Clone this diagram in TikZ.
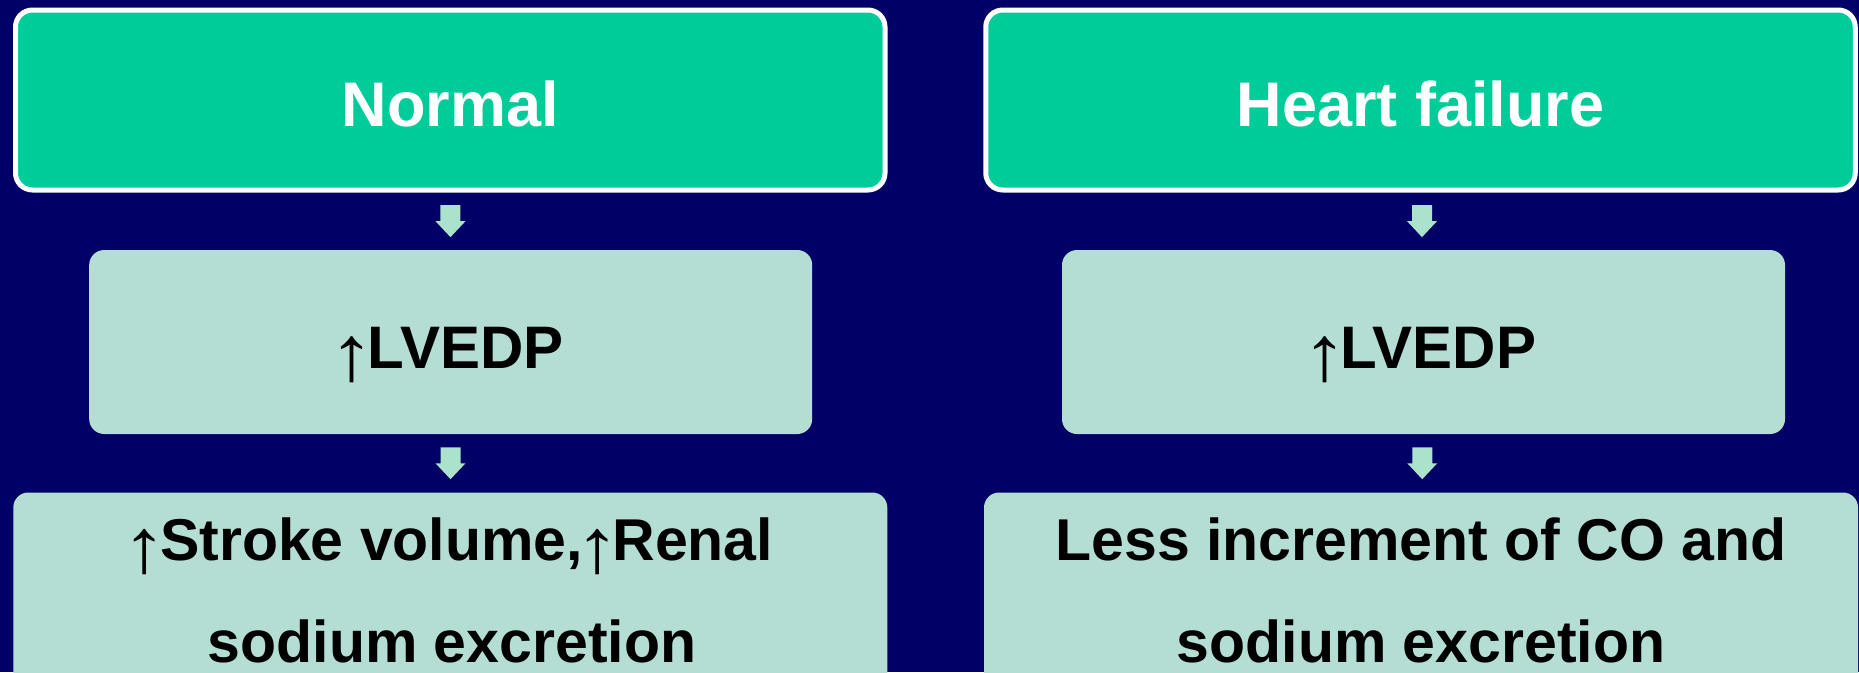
\documentclass[tikz,border=0pt]{standalone}
\usepackage{fontspec}
\usepackage{graphicx}
\setmainfont{Liberation Sans}
\usetikzlibrary{calc}
\definecolor{bg}{RGB}{0,0,102}
\definecolor{hdr}{RGB}{0,204,153}
\definecolor{midfill}{RGB}{180,221,212}
\definecolor{arrfill}{RGB}{170,226,204}
\newcommand{\uparr}{\hspace{-8pt}\raisebox{-12pt}{\scalebox{1.5}[1.3]{\mdseries ↑}}\hspace{-7pt}}
\newcommand{\blockarrow}[1]{\fill[arrfill] ($(#1)+(-10,-16)$) -- ++(20,0) -- ++(0,16) -- ++(5,0) -- ++(-15,16) -- ++(-15,-16) -- ++(5,0) -- cycle;}
\begin{document}
\begin{tikzpicture}[x=1pt,y=-1pt,
  hdrbox/.style={draw=white, line width=5pt, fill=hdr, rounded corners=17pt,
    minimum width=869.5pt, minimum height=180pt, inner sep=0pt, text=white,
    text height=53pt, text depth=0pt,
    font=\fontsize{63}{70}\selectfont\bfseries},
  midbox/.style={fill=midfill, rounded corners=15pt, minimum width=723pt,
    minimum height=184pt, inner sep=0pt, text height=52pt, text depth=0pt,
    font=\fontsize{60}{70}\selectfont\bfseries},
  botbox/.style={fill=midfill, rounded corners=15pt, minimum width=874pt,
    minimum height=250pt, inner sep=0pt, anchor=north},
  bottext/.style={font=\fontsize{59}{102}\selectfont\bfseries, align=center,
    anchor=base, inner sep=0pt}
]
\useasboundingbox (0,0) rectangle (1859,672);
\fill[bg] (0,0) rectangle (1859,672);
\begin{scope}
\clip (0,0) rectangle (1859,672);
\node[hdrbox] (tl) at (450.25,100) {Normal};
\node[hdrbox] (tr) at (1420.5,100) {Heart failure};
\node[midbox] (ml) at (450.7,342) {\uparr LVEDP};
\node[midbox] (mr) at (1423.5,342) {\uparr LVEDP};
\node[botbox] (bl) at (450.3,492.3) {};
\node[botbox] (br) at (1421,492.3) {};
\node[bottext] (blt) at (452,662) {\uparr Stroke volume,\uparr Renal\\sodium excretion};
\node[bottext] (brt) at (1421,662) {Less increment of CO and\\sodium excretion};
\coordinate (a1) at ($(tl.south)!0.5!(ml.north)$);
\coordinate (a2) at ($(ml.south)!0.5!(bl.north)$);
\coordinate (a3) at ($(tr.south)!0.5!(mr.north)$);
\coordinate (a4) at ($(mr.south)!0.5!(br.north)$);
\blockarrow{a1}
\blockarrow{a2}
\blockarrow{a3}
\blockarrow{a4}
\end{scope}
\end{tikzpicture}
\end{document}
